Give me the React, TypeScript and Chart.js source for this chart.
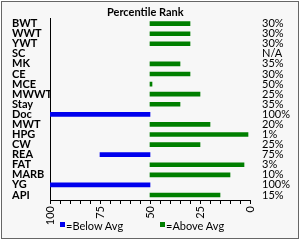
import { useEffect, useRef } from 'react';
import { Chart, registerables } from 'chart.js';
Chart.register(...registerables);

const categories = ['BWT', 'WWT', 'YWT', 'SC', 'MK', 'CE', 'MCE', 'MWWT', 'Stay', 'Doc', 'MWT', 'HPG', 'CW', 'REA', 'FAT', 'MARB', 'YG', 'API'];
const percentLabels = ['30%', '30%', '30%', 'N/A', '35%', '30%', '50%', '25%', '35%', '100%', '20%', '1%', '25%', '75%', '3%', '10%', '100%', '15%'];
const percentiles: (number | null)[] = [30, 30, 30, null, 35, 30, 49, 25, 35, 100, 20, 1, 25, 75, 3, 10, 100, 15];
const average = 50;
const xTickLabels = [100, 75, 50, 25, 0];

const BLUE = '#0000ee';
const GREEN = '#007f00';
const FONT = 'Lato, "Open Sans", sans-serif';

export default function App() {
  const ref = useRef<HTMLCanvasElement | null>(null);

  useEffect(() => {
    if (!ref.current) return;
    const below = percentiles.map((v) => (v != null && v > average ? [average, v] : null));
    const above = percentiles.map((v) => (v != null && v <= average ? [average, v] : null));
    const chart = new Chart(ref.current, {
      type: 'bar',
      data: {
        labels: categories,
        datasets: [
          { label: '=Below Avg', data: below as any, backgroundColor: BLUE, barThickness: 4, grouped: false, yAxisID: 'y' } as any,
          { label: '=Above Avg', data: above as any, backgroundColor: GREEN, barThickness: 4, grouped: false, yAxisID: 'y' } as any,
        ],
      },
      options: {
        indexAxis: 'y',
        responsive: false,
        animation: false,
        layout: { padding: { left: 12, right: 0, top: 15, bottom: 0 } },
        plugins: { legend: { display: false }, title: { display: false }, tooltip: { enabled: false } },
        scales: {
          x: {
            type: 'linear',
            min: 0,
            max: 100,
            reverse: true,
            position: 'bottom',
            ticks: {
              stepSize: 5,
              maxTicksLimit: 21,
              autoSkip: false,
              minRotation: 90,
              maxRotation: 90,
              padding: 2,
              color: '#000',
              font: { family: FONT, size: 11 },
              callback: (v: any) => (xTickLabels.includes(Number(v)) ? String(v) : ''),
            },
            grid: { display: true, drawOnChartArea: false, drawTicks: true, tickLength: 4, color: '#000' },
            border: { display: true, color: '#000', width: 1 },
            afterFit: (s: any) => { s.height = 40; },
          },
          y: {
            type: 'category',
            position: 'left',
            offset: true,
            ticks: { crossAlign: 'far', color: '#000', font: { family: FONT, size: 11, weight: 'bold' }, autoSkip: false, padding: 0 },
            grid: { display: false },
            border: { display: true, color: '#000', width: 1 },
            afterFit: (s: any) => { s.width = 38; },
          },
          y2: {
            type: 'category',
            labels: percentLabels,
            position: 'right',
            offset: true,
            ticks: { color: '#000', font: { family: FONT, size: 11 }, autoSkip: false, padding: 12 },
            grid: { display: false, drawTicks: false },
            border: { display: false },
            afterFit: (s: any) => { s.width = 50; },
          },
        } as any,
      },
    });
    return () => chart.destroy();
  }, []);

  return (
    <div style={{ position: 'fixed', left: 0, top: 0, width: 300, height: 240, background: '#fff', fontFamily: FONT }}>
      <div style={{ position: 'absolute', left: 1, top: 1, width: 296, height: 236, border: '1px solid #666', background: '#f7f7f7' }} />
      <canvas ref={ref} width={300} height={240} style={{ position: 'absolute', left: 0, top: 0, width: 300, height: 240 }} />
      <div style={{ position: 'absolute', left: 107, top: 5, fontSize: 11, fontWeight: 'bold', lineHeight: '13px', color: '#000', whiteSpace: 'nowrap' }}>Percentile Rank</div>
      <div style={{ position: 'absolute', left: 60, top: 222, width: 5, height: 5, background: BLUE }} />
      <div style={{ position: 'absolute', left: 66, top: 219, fontSize: 11, lineHeight: '13px', color: '#000', whiteSpace: 'nowrap' }}>=Below Avg</div>
      <div style={{ position: 'absolute', left: 160, top: 222, width: 5, height: 5, background: GREEN }} />
      <div style={{ position: 'absolute', left: 166, top: 219, fontSize: 11, lineHeight: '13px', color: '#000', whiteSpace: 'nowrap' }}>=Above Avg</div>
    </div>
  );
}
